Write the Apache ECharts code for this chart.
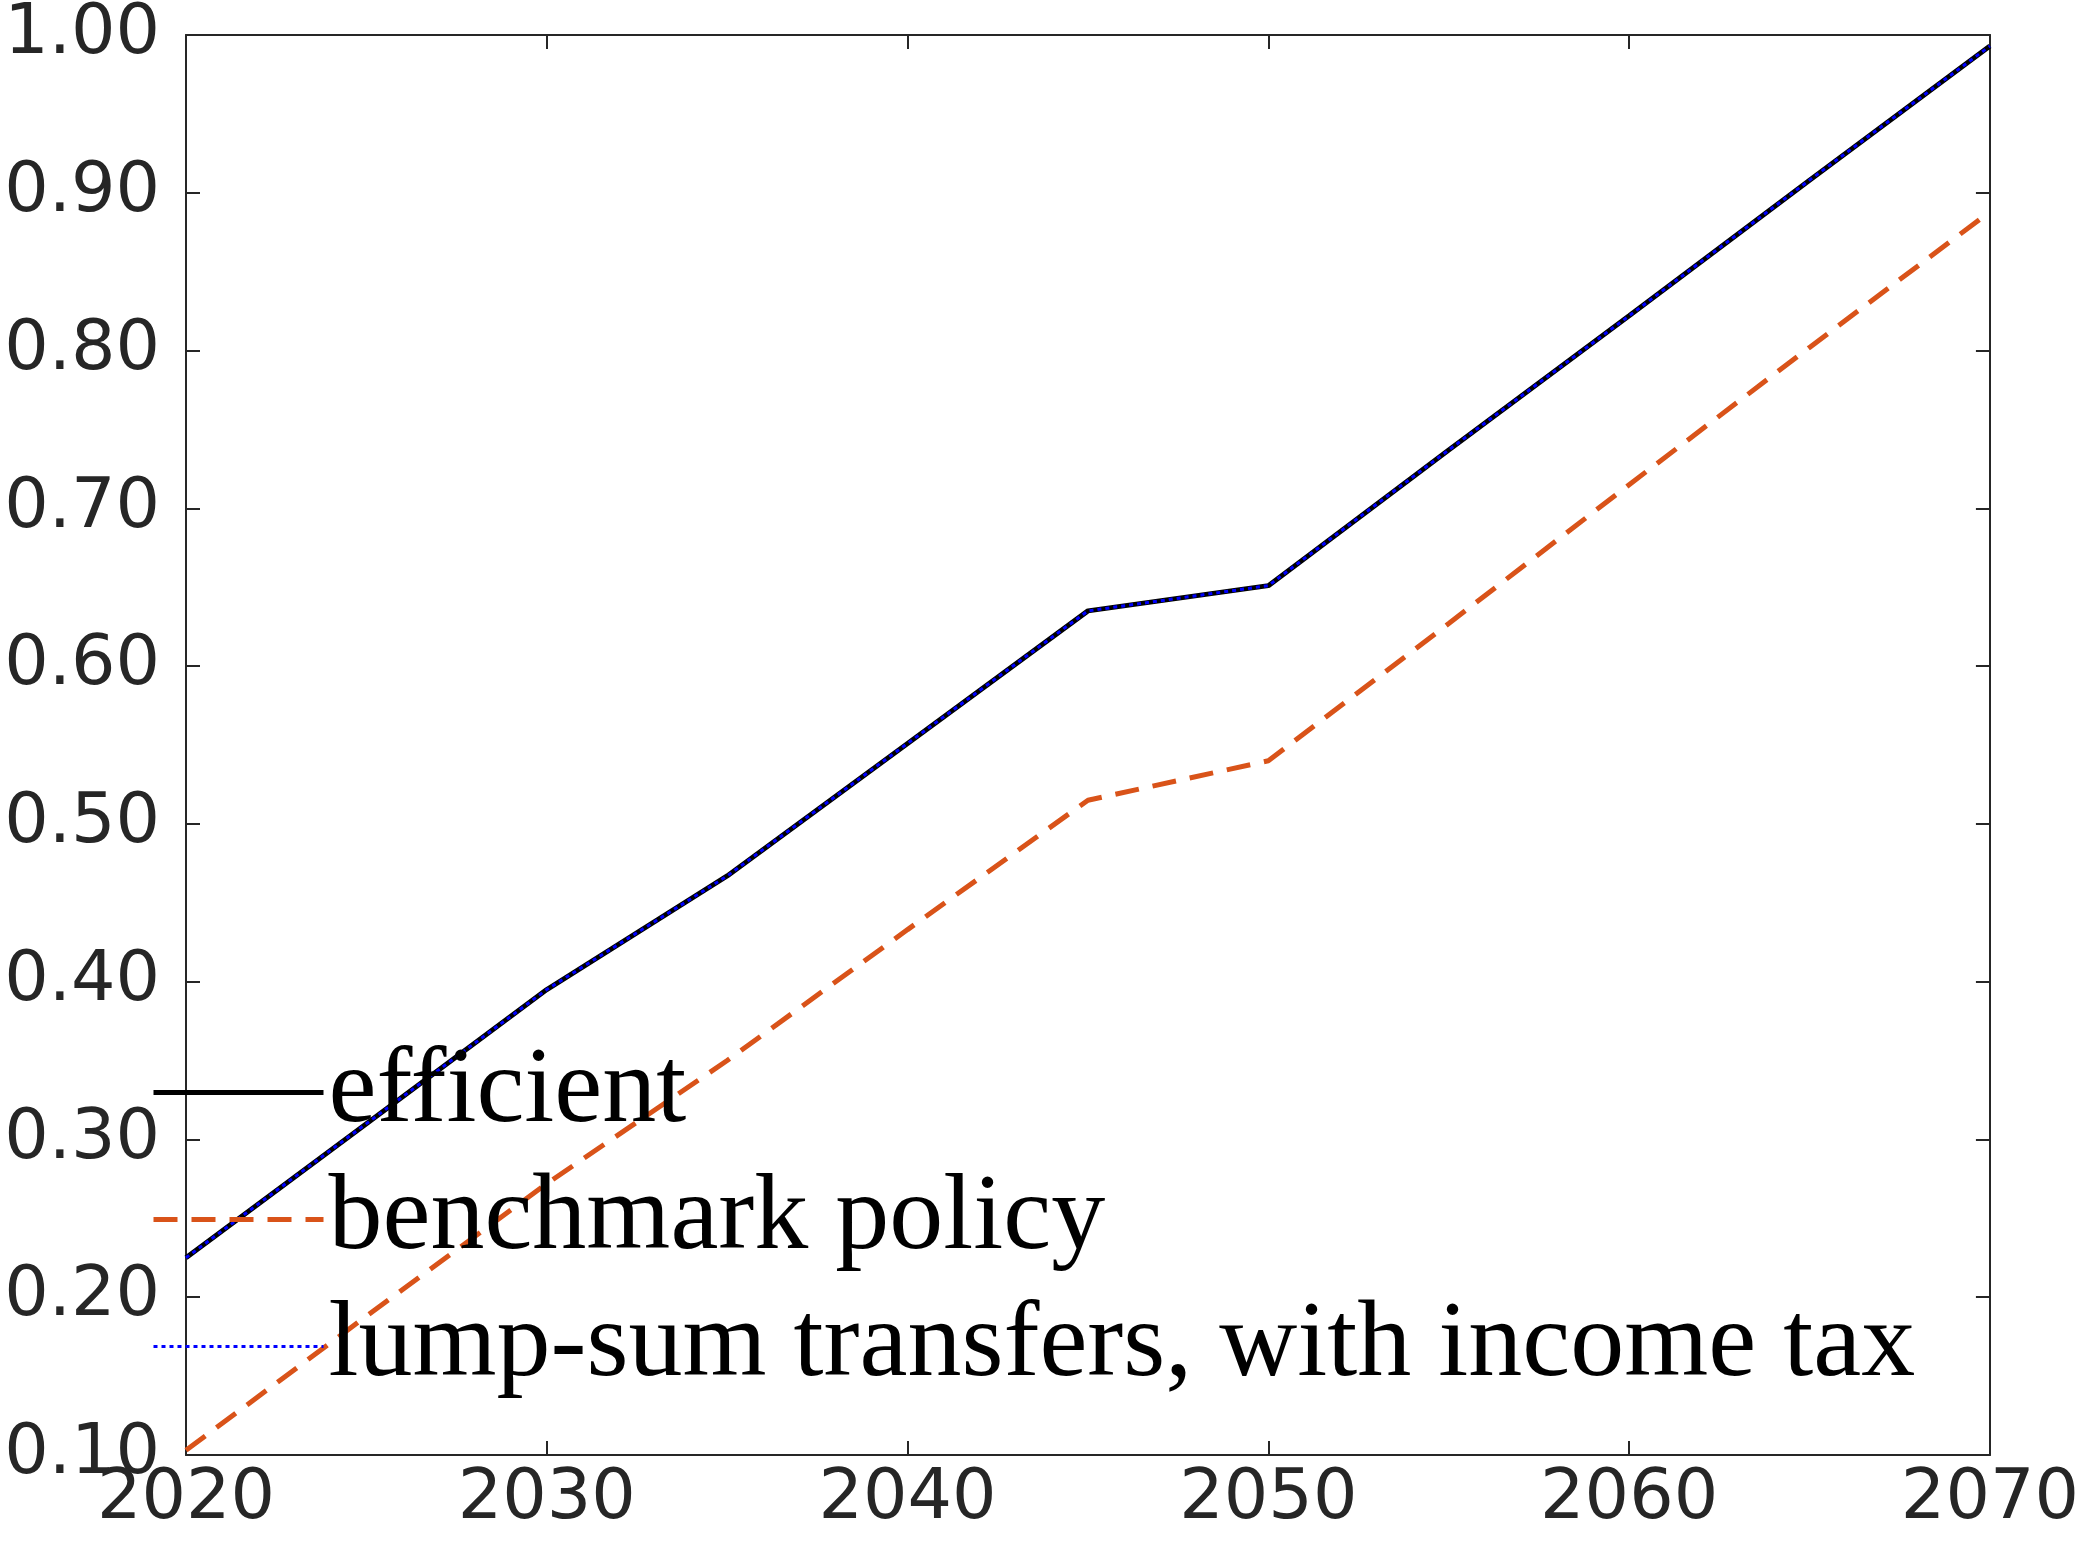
<!DOCTYPE html>
<html>
<head>
<meta charset="utf-8">
<script src="https://cdn.jsdelivr.net/npm/echarts@6/dist/echarts.min.js"></script>
<style>html,body{margin:0;padding:0;background:#fff}#main{width:2082px;height:1554px}</style>
</head>
<body>
<div id="main"></div>
<script>
var years = [2020, 2025, 2030, 2035, 2040, 2045, 2050, 2055, 2060, 2065, 2070];
var efficient = [0.225, 0.310, 0.395, 0.467, 0.551, 0.635, 0.651, 0.737, 0.822, 0.908, 0.993];
var benchmark = [0.103, 0.188, 0.272, 0.350, 0.433, 0.515, 0.540, 0.627, 0.715, 0.802, 0.888];
var lumpSum = [0.225, 0.310, 0.395, 0.467, 0.551, 0.635, 0.651, 0.737, 0.822, 0.908, 0.993];
var names = ['efficient', 'benchmark policy', 'lump-sum transfers, with income tax'];

function pairs(v) {
  return years.map(function (y, i) { return [y, v[i]]; });
}

var myChart = echarts.init(document.getElementById('main'));

var tickStyle = { show: true, inside: true, length: 14, lineStyle: { color: '#262626', width: 2 } };
var lineStyle = { color: '#262626', width: 2 };

var option = {
  animation: false,
  grid: { left: 186, right: 90, top: 31, bottom: 99 },
  legend: {
    orient: 'vertical',
    left: 146,
    top: 1030,
    itemWidth: 170,
    itemHeight: 20,
    itemGap: 12,
    itemStyle: { opacity: 0 },
    textStyle: { fontFamily: 'Liberation Serif', fontSize: 108, color: '#000', lineHeight: 115 },
    data: [
      { name: names[0], lineStyle: { width: 5 } },
      { name: names[1], lineStyle: { width: 5 } },
      { name: names[2], lineStyle: { width: 3 } }
    ]
  },
  xAxis: [
    {
      type: 'value', min: 2020, max: 2070, interval: 10,
      axisLine: { lineStyle: lineStyle }, axisTick: tickStyle, splitLine: { show: false },
      axisLabel: { fontFamily: 'DejaVu Sans', fontSize: 70, color: '#262626', margin: 10,
        formatter: function (v) { return String(v); } }
    },
    {
      type: 'value', position: 'top', min: 2020, max: 2070, interval: 10,
      axisLine: { lineStyle: lineStyle }, axisTick: tickStyle, axisLabel: { show: false }, splitLine: { show: false }
    }
  ],
  yAxis: [
    {
      type: 'value', min: 0.1, max: 1, interval: 0.1,
      axisLine: { show: true, lineStyle: lineStyle }, axisTick: tickStyle, splitLine: { show: false },
      axisLabel: { fontFamily: 'DejaVu Sans', fontSize: 70, color: '#262626', margin: 26,
        formatter: function (v) { return v.toFixed(2); } }
    },
    {
      type: 'value', position: 'right', min: 0.1, max: 1, interval: 0.1,
      axisLine: { show: true, lineStyle: lineStyle }, axisTick: tickStyle, axisLabel: { show: false }, splitLine: { show: false }
    }
  ],
  series: [
    {
      name: names[0], type: 'line', symbol: 'none', data: pairs(efficient),
      lineStyle: { color: '#000', width: 5 }, itemStyle: { color: '#000' }
    },
    {
      name: names[1], type: 'line', symbol: 'none', data: pairs(benchmark),
      lineStyle: { color: '#D95319', width: 5, type: [24, 14] }, itemStyle: { color: '#D95319' }
    },
    {
      name: names[2], type: 'line', symbol: 'none', data: pairs(lumpSum),
      lineStyle: { color: '#0000FF', width: 3, type: [4, 4] }, itemStyle: { color: '#0000FF' }
    }
  ]
};

myChart.setOption(option);
</script>
</body>
</html>
